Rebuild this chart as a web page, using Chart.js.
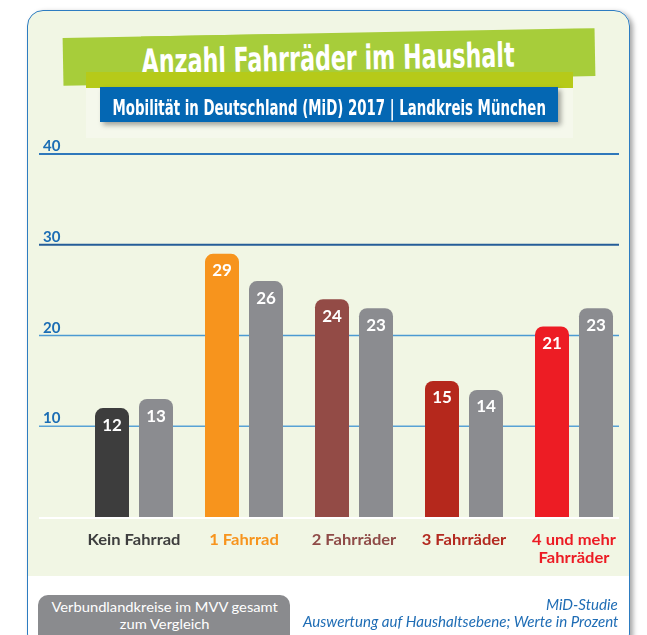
<!DOCTYPE html>
<html><head><meta charset="utf-8">
<script src="https://cdn.jsdelivr.net/npm/chart.js@4/dist/chart.umd.min.js"></script>
<style>
html,body{margin:0;padding:0;width:647px;height:635px;overflow:hidden;background:#fff;}
#frame{position:absolute;left:27px;top:10px;width:603px;height:640px;box-sizing:border-box;border:1.5px solid #2d7cc1;border-radius:16px;background:linear-gradient(to bottom,#f1f6e4 0,#f1f6e4 565px,#fff 565px);box-shadow:3px 2px 5px rgba(0,0,0,0.35);}
#banner{position:absolute;left:63px;top:33px;width:532px;height:48px;background:#a7cd3a;transform:rotate(-1.05deg);transform-origin:50% 50%;z-index:2;}
#strip{position:absolute;left:86px;top:72px;width:487px;height:16px;background:#b6ca19;z-index:3;}
#shade{position:absolute;left:86px;top:86px;width:487px;height:52px;background:#f5f8ec;z-index:1;}
#blue{position:absolute;left:100px;top:87px;width:458px;height:35px;background:#0467b3;box-shadow:3px 3px 5px rgba(0,0,0,0.35);z-index:4;}
.t{position:absolute;white-space:nowrap;display:inline-block;}
#title{font-family:"Liberation Sans Narrow","DejaVu Sans Condensed",sans-serif;font-weight:bold;font-size:34px;line-height:34px;color:#fff;top:8px;z-index:5;}
#sub{font-family:"Liberation Sans Narrow","DejaVu Sans Condensed",sans-serif;font-weight:bold;font-size:20.5px;line-height:20.5px;color:#fff;top:98px;z-index:5;}
#gray{position:absolute;left:38px;top:595px;width:252px;height:60px;background:#8a8b8e;border-radius:10px;z-index:2;}
.g{font-family:Lato,sans-serif;font-size:14px;line-height:14px;color:#fff;z-index:3;}
.r{font-family:Lato,sans-serif;font-style:italic;font-size:14.5px;line-height:14.5px;color:#1f6db5;z-index:3;}
#c{position:absolute;left:0;top:0;z-index:1;}
</style></head>
<body>
<div id="frame"></div>
<div id="banner"><span class="t" id="title">Anzahl Fahrräder im Haushalt</span></div>
<div id="shade"></div>
<div id="strip"></div>
<div id="blue"></div>
<span class="t" id="sub">Mobilität in Deutschland (MiD) 2017 | Landkreis München</span>
<canvas id="c" width="647" height="635"></canvas>
<div id="gray"></div>
<span class="t g" id="g1" style="top:600px">Verbundlandkreise im MVV gesamt</span>
<span class="t g" id="g2" style="top:617px">zum Vergleich</span>
<span class="t r" id="r1" style="top:598px">MiD-Studie</span>
<span class="t r" id="r2" style="top:615px">Auswertung auf Haushaltsebene; Werte in Prozent</span>
<script>
// ---- data ----
const categories = [['Kein Fahrrad'], ['1 Fahrrad'], ['2 Fahrräder'], ['3 Fahrräder'], ['4 und mehr', 'Fahrräder']];
const landkreisMuenchen = [12, 29, 24, 15, 21];
const verbundlandkreise = [13, 26, 23, 14, 23];
const yTicks = [10, 20, 30, 40];

// ---- styles ----
const barColors = ['#3d3d3d', '#f7941d', '#934b46', '#b5281c', '#ed1c24'];
const labelColors = ['#3e3e3e', '#f7941d', '#8f4b47', '#b32a20', '#ec1c24'];
const grayColor = '#8b8c90';
const gridColors = {10: '#58a2d5', 20: '#4b9ad2', 30: '#245d98', 40: '#2f78bb'};

// ---- text fitting ----
function fitCenter(id, cx, targetW, scaleFrom) {
  const el = document.getElementById(id);
  const w = el.offsetWidth;
  const k = scaleFrom !== undefined ? scaleFrom : targetW / w;
  el.style.left = (cx - w / 2) + 'px';
  el.style.transformOrigin = '50% 50%';
  el.style.transform = 'scaleX(' + k + ')';
  return k;
}
function fitRight(id, right, targetW, scaleFrom) {
  const el = document.getElementById(id);
  const w = el.offsetWidth;
  const k = scaleFrom !== undefined ? scaleFrom : targetW / w;
  el.style.left = (right - w) + 'px';
  el.style.transformOrigin = '100% 50%';
  el.style.transform = 'scaleX(' + k + ')';
  return k;
}
function layoutTexts() {
  fitCenter('title', 265, 373);
  fitCenter('sub', 328.5, 433);
  const kg = fitCenter('g1', 164, 226);
  fitCenter('g2', 164, 0, kg);
  const kr = fitRight('r2', 618, 315);
  fitRight('r1', 618, 0, kr);
}
layoutTexts();

const overlay = {
  id: 'overlay',
  beforeDatasetsDraw(chart) {
    const ctx = chart.ctx, y = chart.scales.y;
    const x0 = 39, x1 = 619;
    ctx.save();
    yTicks.forEach(v => {
      const py = y.getPixelForValue(v);
      ctx.strokeStyle = gridColors[v];
      ctx.lineWidth = v >= 30 ? 2 : 1.6;
      ctx.beginPath(); ctx.moveTo(x0, py); ctx.lineTo(x1, py); ctx.stroke();
      ctx.fillStyle = '#1b6db4';
      ctx.font = 'bold 15px Lato';
      ctx.textAlign = 'left'; ctx.textBaseline = 'alphabetic';
      ctx.fillText(String(v), 43, py - 3);
    });
    const pz = y.getPixelForValue(0);
    ctx.strokeStyle = '#ffffff'; ctx.lineWidth = 2;
    ctx.beginPath(); ctx.moveTo(x0, pz + 1); ctx.lineTo(x1, pz + 1); ctx.stroke();
    ctx.restore();
  },
  afterDatasetsDraw(chart) {
    const ctx = chart.ctx, xs = chart.scales.x;
    ctx.save();
    ctx.fillStyle = '#fff';
    ctx.font = 'bold 17px Lato';
    ctx.textAlign = 'center'; ctx.textBaseline = 'middle';
    chart.data.datasets.forEach((ds, di) => {
      chart.getDatasetMeta(di).data.forEach((bar, i) => {
        ctx.fillText(String(ds.data[i]), bar.x, bar.y + 17);
      });
    });
    ctx.font = 'bold 16px Lato';
    ctx.textBaseline = 'alphabetic';
    const k = 93 / ctx.measureText('Kein Fahrrad').width;
    categories.forEach((lines, i) => {
      const cx = xs.getPixelForValue(i);
      ctx.fillStyle = labelColors[i];
      lines.forEach((ln, j) => {
        ctx.save();
        ctx.translate(cx, 545 + j * 18);
        ctx.scale(k, 1);
        ctx.fillText(ln, 0, 0);
        ctx.restore();
      });
    });
    ctx.restore();
  }
};

new Chart(document.getElementById('c'), {
  type: 'bar',
  data: {
    labels: categories.map(c => c.join(' ')),
    datasets: [
      {data: landkreisMuenchen, backgroundColor: barColors},
      {data: verbundlandkreise, backgroundColor: grayColor}
    ]
  },
  options: {
    responsive: false,
    animation: false,
    layout: {padding: {left: 79, right: 18, top: 154, bottom: 118}},
    datasets: {bar: {barPercentage: 34 / 44, categoryPercentage: 0.8, borderRadius: 8, borderSkipped: 'start'}},
    scales: {
      x: {display: false},
      y: {display: false, min: 0, max: 40}
    },
    plugins: {legend: {display: false}, tooltip: {enabled: false}}
  },
  plugins: [overlay]
});
if (document.fonts && document.fonts.ready) document.fonts.ready.then(layoutTexts);
</script>
</body></html>
